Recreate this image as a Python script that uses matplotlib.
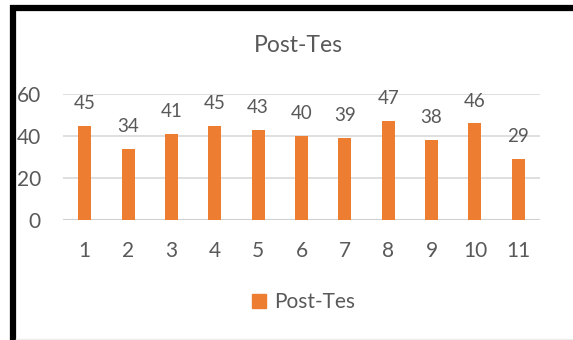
import matplotlib
matplotlib.use("Agg")
import matplotlib.pyplot as plt
from matplotlib.lines import Line2D

categories = ["1", "2", "3", "4", "5", "6", "7", "8", "9", "10", "11"]
values = [45, 34, 41, 45, 43, 40, 39, 47, 38, 46, 29]
series_name = "Post-Tes"
title = "Post-Tes"
yticks = [0, 20, 40, 60]

plt.rcParams['font.family'] = ['Lato', 'DejaVu Sans']
W, H = 573, 340
fig = plt.figure(figsize=(W / 100, H / 100), dpi=100)
ax = fig.add_axes([63 / W, 1 - 220 / H, (540 - 63) / W, (220 - 94) / H])

gray = "#595959"
x = list(range(len(categories)))
ax.bar(x, values, width=0.3, color="#ED7D31", label=series_name, zorder=3)
ax.set_xlim(-0.5, len(categories) - 0.5)
ax.set_ylim(0, 60)
ax.set_yticks(yticks)
ax.set_xticks(x)
ax.set_xticklabels(categories)
for sp in ax.spines.values():
    sp.set_visible(False)
ax.grid(axis="y", color="#d9d9d9", lw=1.2, zorder=0)
ax.tick_params(axis="both", length=0, labelsize=15, colors=gray)
ax.tick_params(axis="y", pad=16)
ax.tick_params(axis="x", pad=15)
ax.axhline(0, color="#d0d0d0", lw=1.5, zorder=2)

for xi, v in zip(x, values):
    ax.annotate(str(v), (xi, v), xytext=(0, 10), textcoords="offset points",
                ha="center", va="bottom", fontsize=13.5, color=gray)

fig.text(298 / W, 1 - 45 / H, title, ha="center", va="center", fontsize=16.5, color=gray)

handle = Line2D([], [], marker="s", ls="", color="#ED7D31", markersize=10)
fig.legend([handle], [series_name], loc="center", bbox_to_anchor=(302 / W, 1 - 302 / H),
           frameon=False, fontsize=15, labelcolor=gray, handletextpad=0.2,
           handlelength=1.0)

# black frame edges (top and left)
fig.add_artist(Line2D([10 / W, 1], [1 - 8 / H, 1 - 8 / H], color="black", lw=4.5,
                      transform=fig.transFigure, solid_capstyle="butt"))
fig.add_artist(Line2D([13 / W, 13 / W], [0, 1 - 5 / H], color="black", lw=4.5,
                      transform=fig.transFigure, solid_capstyle="butt"))
fig.add_artist(Line2D([16 / W, 1], [1.5 / H, 1.5 / H], color="#eeeeee", lw=1,
                      transform=fig.transFigure))

fig.savefig("out.png", dpi=100)
